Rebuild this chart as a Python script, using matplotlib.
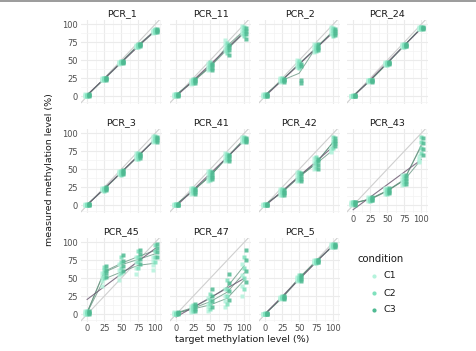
import numpy as np
import matplotlib
matplotlib.use("Agg")
import matplotlib.pyplot as plt
from matplotlib.lines import Line2D

# target levels and condition names
targets = [0, 25, 50, 75, 100]
conditions = ["C1", "C2", "C3"]
cond_colors = ["#b4f3dc", "#7fe1bd", "#4fba92"]

# measured values: per panel -> per condition -> per target level
pcr_1 = [[[0, 1, 2, 3], [22, 23, 24, 25], [45, 46, 47, 48], [68, 69, 70, 71], [88, 90, 91, 92]],
         [[0, 1, 2, 2], [23, 24, 25, 26], [46, 47, 48, 49], [69, 70, 71, 72], [89, 90, 92, 93]],
         [[1, 2, 2, 3], [23, 24, 25, 25], [46, 47, 48, 49], [70, 71, 72, 73], [90, 91, 92, 93]]]
pcr_11 = [[[0, 1, 2, 3], [17, 19, 21, 23], [36, 39, 42, 46], [63, 67, 72, 78], [86, 90, 94, 97]],
          [[1, 2, 3, 3], [18, 20, 22, 24], [38, 41, 44, 47], [60, 65, 69, 74], [84, 88, 92, 96]],
          [[1, 2, 2, 3], [19, 21, 22, 24], [36, 40, 43, 45], [57, 64, 68, 71], [80, 86, 91, 95]]]
pcr_2 = [[[0, 1, 2, 3], [20, 22, 24, 25], [41, 44, 47, 50], [62, 66, 69, 72], [86, 89, 93, 96]],
         [[0, 1, 2, 3], [21, 22, 23, 25], [40, 43, 46, 49], [63, 66, 68, 71], [84, 88, 92, 95]],
         [[1, 1, 2, 3], [20, 22, 23, 24], [42, 45, 19, 22], [64, 67, 69, 72], [85, 88, 91, 94]]]
pcr_24 = [[[0, 0, 1, 1], [20, 21, 22, 23], [44, 45, 46, 47], [69, 70, 71, 72], [93, 94, 95, 96]],
          [[0, 1, 1, 2], [21, 22, 22, 23], [44, 45, 46, 47], [69, 70, 71, 72], [94, 95, 96, 96]],
          [[0, 0, 1, 2], [20, 21, 22, 23], [45, 46, 46, 47], [70, 70, 71, 72], [94, 95, 95, 96]]]
pcr_3 = [[[0, 0, 1, 2], [21, 22, 23, 24], [43, 45, 46, 48], [64, 67, 69, 72], [88, 90, 93, 96]],
         [[0, 1, 1, 2], [20, 22, 23, 24], [42, 44, 46, 48], [65, 68, 70, 72], [89, 91, 94, 96]],
         [[0, 1, 2, 2], [21, 22, 24, 25], [43, 45, 47, 49], [66, 68, 70, 71], [88, 91, 93, 95]]]
pcr_41 = [[[0, 1, 1, 2], [16, 19, 22, 24], [34, 38, 43, 48], [62, 65, 68, 72], [88, 90, 93, 95]],
          [[0, 1, 2, 2], [17, 20, 22, 24], [35, 40, 44, 47], [63, 66, 69, 71], [89, 91, 93, 95]],
          [[0, 1, 1, 2], [16, 19, 21, 23], [36, 39, 42, 46], [62, 65, 68, 70], [88, 90, 92, 94]]]
pcr_42 = [[[0, 1, 1, 2], [14, 17, 20, 22], [34, 38, 42, 46], [50, 55, 60, 66], [74, 76, 78, 80]],
          [[0, 1, 2, 2], [15, 18, 20, 22], [35, 39, 43, 46], [52, 57, 62, 67], [80, 85, 90, 95]],
          [[0, 1, 1, 2], [14, 17, 19, 21], [34, 37, 41, 45], [51, 56, 61, 65], [82, 86, 90, 94]]]
pcr_43 = [[[1, 2, 3, 4], [6, 8, 9, 11], [16, 19, 22, 24], [28, 32, 37, 42], [60, 62, 65, 68]],
          [[2, 3, 4, 5], [6, 7, 9, 10], [16, 18, 21, 23], [29, 33, 37, 41], [72, 80, 88, 95]],
          [[1, 2, 4, 5], [7, 8, 10, 11], [17, 19, 21, 24], [30, 34, 38, 42], [70, 78, 86, 93]]]
pcr_45 = [[[0, 1, 3, 5], [40, 46, 52, 58], [48, 55, 62, 70], [56, 64, 72, 80], [62, 68, 74, 80]],
          [[0, 2, 3, 4], [50, 56, 61, 66], [58, 65, 72, 80], [65, 72, 80, 88], [72, 80, 88, 96]],
          [[1, 2, 3, 5], [52, 57, 62, 67], [60, 67, 74, 82], [70, 77, 84, 90], [80, 86, 92, 97]]]
pcr_47 = [[[0, 1, 2, 3], [3, 6, 9, 12], [5, 10, 15, 22], [10, 18, 26, 35], [25, 40, 55, 70]],
          [[0, 1, 1, 2], [4, 7, 10, 13], [8, 14, 20, 28], [15, 25, 35, 48], [35, 50, 65, 80]],
          [[1, 2, 2, 3], [5, 8, 11, 14], [10, 18, 26, 35], [20, 32, 44, 56], [45, 60, 75, 90]]]
pcr_5 = [[[0, 0, 1, 1], [21, 22, 23, 24], [46, 48, 50, 52], [71, 72, 74, 75], [93, 94, 96, 97]],
         [[0, 1, 1, 2], [22, 23, 24, 25], [47, 49, 51, 54], [71, 73, 74, 76], [94, 95, 96, 97]],
         [[0, 0, 1, 2], [21, 23, 24, 25], [46, 49, 52, 55], [72, 73, 75, 76], [93, 95, 96, 97]]]

panel_names = ["PCR_1", "PCR_11", "PCR_2", "PCR_24", "PCR_3", "PCR_41",
               "PCR_42", "PCR_43", "PCR_45", "PCR_47", "PCR_5"]
panel_data = [pcr_1, pcr_11, pcr_2, pcr_24, pcr_3, pcr_41,
              pcr_42, pcr_43, pcr_45, pcr_47, pcr_5]

W, H = 476, 351
fig = plt.figure(figsize=(W / 100, H / 100), dpi=100)
fig.patch.set_facecolor("white")

col_left = [81, 170, 259, 347]
row_top = [20, 129, 238]
pw, ph = 81, 83.5
xlim = (-9, 110)
ylim = (-10, 106)
offsets = [-2.5, 0, 2.5]

for i, (name, data) in enumerate(zip(panel_names, panel_data)):
    r, c = divmod(i, 4)
    ax = fig.add_axes([col_left[c] / W, 1 - (row_top[r] + ph) / H, pw / W, ph / H])
    ax.set_xlim(*xlim)
    ax.set_ylim(*ylim)
    ax.set_xticks(targets)
    ax.set_yticks(targets)
    ax.set_xticks([12.5, 37.5, 62.5, 87.5, 107.5], minor=True)
    ax.set_yticks([-7.5, 12.5, 37.5, 62.5, 87.5], minor=True)
    ax.grid(which="major", color="#ebebeb", lw=0.8)
    ax.grid(which="minor", color="#f3f3f3", lw=0.5)
    ax.set_axisbelow(True)
    for s in ax.spines.values():
        s.set_visible(False)
    ax.tick_params(which="both", length=0, labelsize=6, labelcolor="#4d4d4d", pad=2)
    if c != 0:
        ax.set_yticklabels([])
    bottom = (r == 2) or (r == 1 and c == 3)
    if not bottom:
        ax.set_xticklabels([])
    ax.set_title(name, fontsize=6.8, color="#1a1a1a", pad=3)

    # identity line
    ax.plot(xlim, xlim, color="#cfcfcf", lw=0.8, zorder=1)

    allx, ally = [], []
    for k in range(3):
        means = []
        for j, t in enumerate(targets):
            vals = data[k][j]
            xs = [t + offsets[k]] * len(vals)
            ax.plot(xs, vals, ls="none", marker="s", ms=2.8, color=cond_colors[k],
                    alpha=0.85, mec="none", zorder=3)
            allx += [t] * len(vals)
            ally += vals
            means.append(np.mean(vals))
        ax.plot(targets, means, color="#5f8f7a", lw=0.7, alpha=0.75, zorder=2)
    slope, icpt = np.polyfit(allx, ally, 1)
    ax.plot([0, 100], [icpt, icpt + 100 * slope], color="#6f5c74", lw=0.8, alpha=0.85, zorder=2)

fig.text(242 / W, 1 - 340 / H, "target methylation level (%)", ha="center", va="center",
         fontsize=6.8, color="#1a1a1a")
fig.text(50 / W, 1 - 170 / H, "measured methylation level (%)", ha="center", va="center",
         rotation=90, fontsize=6.8, color="#1a1a1a")

# legend
fig.text(358 / W, 1 - 259 / H, "condition", ha="left", va="center", fontsize=7.2, color="#1a1a1a")
for k, (name, col) in enumerate(zip(conditions, cond_colors)):
    yy = 1 - (276 + 17 * k) / H
    fig.add_artist(Line2D([374 / W], [yy], marker="o", ms=2, color=col, ls="none"))
    fig.text(384 / W, yy, name, ha="left", va="center", fontsize=6.8, color="#1a1a1a")

# top border
fig.add_artist(Line2D([0, 1], [0.997, 0.997], color="#8a8a8a", lw=1.2))

fig.savefig("out.png", dpi=100)
